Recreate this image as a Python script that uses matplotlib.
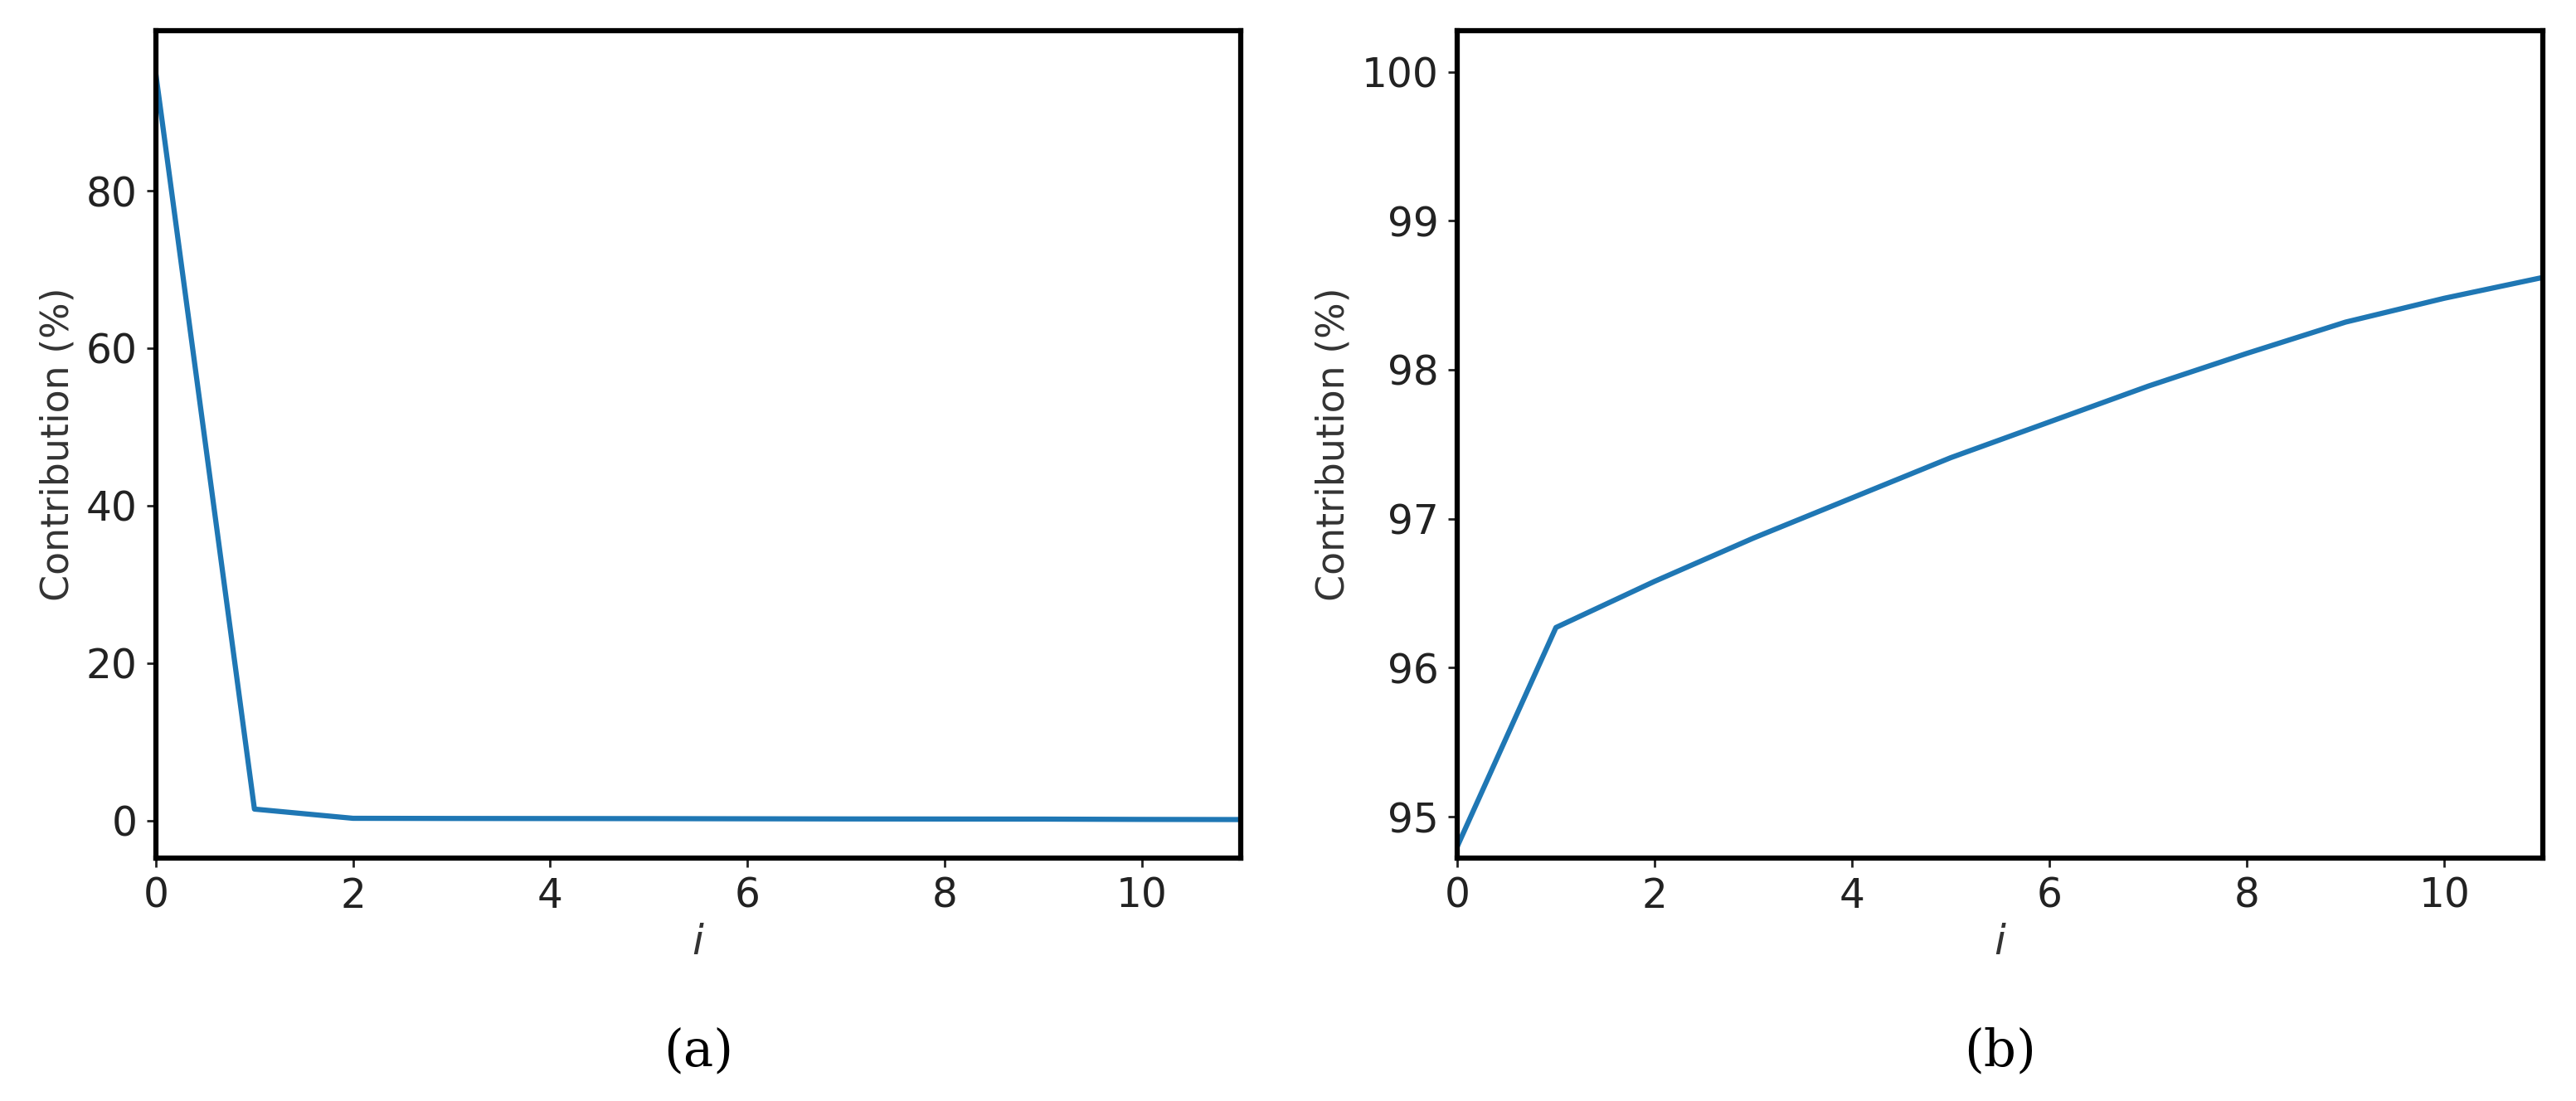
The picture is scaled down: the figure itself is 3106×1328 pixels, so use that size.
import numpy as np
import matplotlib as mpl
mpl.use('Agg')
import matplotlib.pyplot as plt

## data
steps = list(range(12))
contrib_each = [94.8, 1.47, 0.30, 0.28, 0.27, 0.26, 0.24, 0.22, 0.21, 0.20, 0.16, 0.14]
contrib_cum = [94.8, 96.27, 96.58, 96.87, 97.14, 97.41, 97.65, 97.89, 98.11, 98.32, 98.48, 98.62]
captions = ['(a)', '(b)']

plt.rc('font', size=34)
fig = plt.figure(figsize=(31.06, 13.28), dpi=100)

ax1 = fig.add_axes([0.0605, 0.221, 0.421, 0.751])
ax2 = fig.add_axes([0.5657, 0.221, 0.4215, 0.751])

ax1.plot(steps, contrib_each, color='#1f77b4', linewidth=4.5)
ax1.set_ylim(-4.7, 100.3)
ax1.set_yticks([0, 20, 40, 60, 80])

ax2.plot(steps, contrib_cum, color='#1f77b4', linewidth=4.5)
ax2.set_ylim(94.725, 100.275)
ax2.set_yticks([95, 96, 97, 98, 99, 100])

for ax, cap in zip([ax1, ax2], captions):
    ax.set_xlim(0, 11)
    ax.set_xticks([0, 2, 4, 6, 8, 10])
    ax.set_xlabel('$i$', fontsize=36, color='#333333', labelpad=6)
    ax.set_ylabel('Contribution (%)', fontsize=33, color='#333333', labelpad=8)
    ax.tick_params(labelsize=35, length=8, width=2, colors='#222222', pad=8)
    for s in ax.spines.values():
        s.set_linewidth(4.5)
        s.set_color('black')
    ax.text(0.5, -0.234, cap, transform=ax.transAxes, ha='center', va='center',
            fontsize=44, family='DejaVu Serif')

plt.savefig('out.png')
